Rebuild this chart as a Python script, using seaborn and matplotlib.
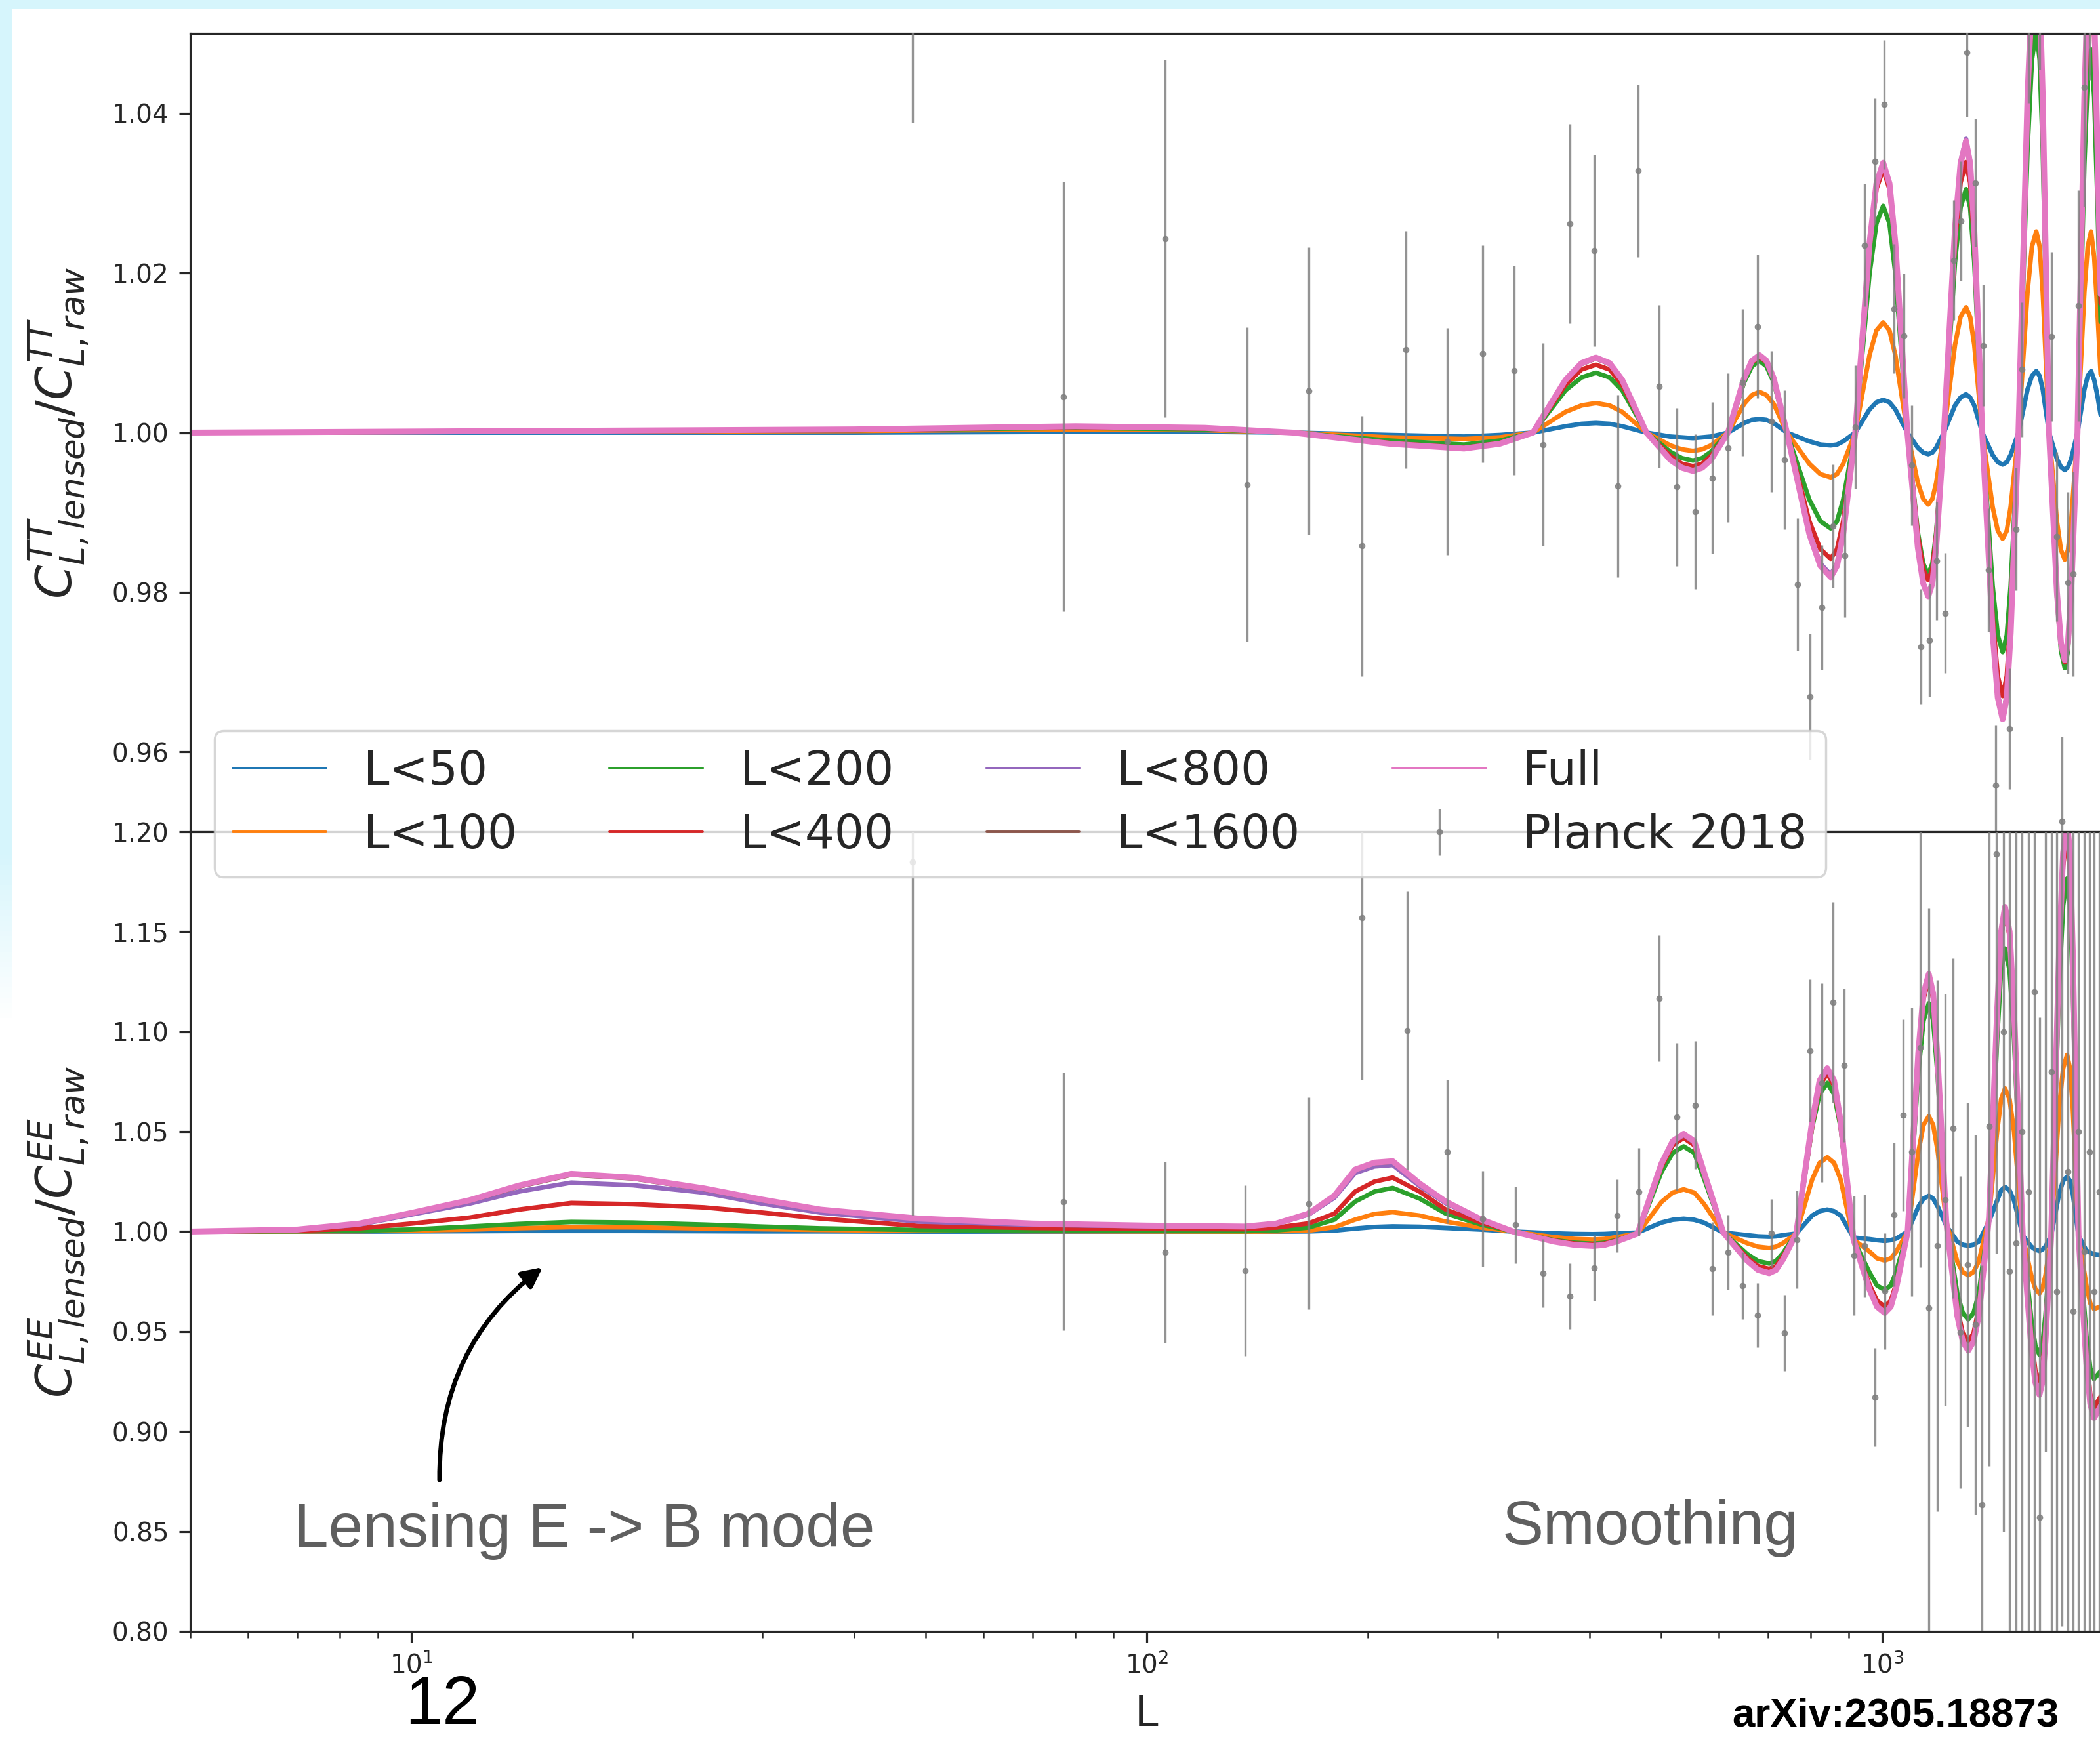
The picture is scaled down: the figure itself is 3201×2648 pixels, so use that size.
import numpy as np
import pandas as pd
import matplotlib
matplotlib.use("Agg")
import matplotlib.pyplot as plt
import matplotlib.colors as mcolors
import seaborn as sns
from matplotlib.lines import Line2D
from matplotlib.patches import Rectangle
from matplotlib.ticker import FormatStrFormatter, NullFormatter

sns.set_style("ticks")
plt.rcParams['font.family'] = 'DejaVu Sans'
plt.rcParams['lines.solid_joinstyle'] = 'round'

# ---------------- data ----------------
cuts = ["L<50", "L<100", "L<200", "L<400", "L<800", "L<1600", "Full"]

# TT ratio, upper panel
L_tt = [5, 40, 80, 120, 158,
        214, 270, 302, 335,
        371, 390, 408, 426, 443, 478,
        515, 534, 553, 569, 585, 617,
        649, 665, 681, 696, 712, 742,
        796, 824, 851, 868, 885, 919,
        961, 982, 1003, 1023, 1042, 1082,
        1118, 1137, 1155, 1170, 1184, 1213,
        1256, 1278, 1300, 1317, 1334, 1368,
        1413, 1436, 1458, 1477, 1495, 1532,
        1576, 1598, 1620, 1637, 1653, 1686,
        1728, 1750, 1771, 1789, 1807, 1843,
        1883, 1903, 1923, 1942, 1962, 2000]
tt_blue = [1.0000, 1.0000, 1.0001, 1.0001, 1.0000,
           0.9997, 0.9995, 0.9997, 1.0000,
           1.0008, 1.0011, 1.0012, 1.0011, 1.0008, 1.0000,
           0.9995, 0.9994, 0.9993, 0.9994, 0.9995, 1.0000,
           1.0012, 1.0016, 1.0017, 1.0016, 1.0012, 1.0000,
           0.9989, 0.9985, 0.9984, 0.9985, 0.9989, 1.0000,
           1.0029, 1.0038, 1.0041, 1.0038, 1.0029, 1.0000,
           0.9981, 0.9975, 0.9973, 0.9975, 0.9981, 1.0000,
           1.0034, 1.0044, 1.0048, 1.0044, 1.0034, 1.0000,
           0.9972, 0.9963, 0.9960, 0.9963, 0.9972, 1.0000,
           1.0054, 1.0071, 1.0077, 1.0071, 1.0054, 1.0000,
           0.9967, 0.9957, 0.9953, 0.9957, 0.9967, 1.0000,
           1.0054, 1.0071, 1.0077, 1.0066, 1.0046, 1.0000]
tt_orange = [1.0000, 1.0002, 1.0004, 1.0003, 1.0000,
             0.9994, 0.9992, 0.9994, 1.0000,
             1.0026, 1.0034, 1.0037, 1.0034, 1.0026, 1.0000,
             0.9984, 0.9979, 0.9977, 0.9979, 0.9984, 1.0000,
             1.0036, 1.0047, 1.0051, 1.0047, 1.0036, 1.0000,
             0.9961, 0.9948, 0.9944, 0.9948, 0.9961, 1.0000,
             1.0097, 1.0128, 1.0138, 1.0128, 1.0097, 1.0000,
             0.9937, 0.9917, 0.9910, 0.9917, 0.9937, 1.0000,
             1.0110, 1.0145, 1.0157, 1.0145, 1.0110, 1.0000,
             0.9907, 0.9877, 0.9867, 0.9877, 0.9907, 1.0000,
             1.0176, 1.0233, 1.0252, 1.0233, 1.0176, 1.0000,
             0.9889, 0.9853, 0.9841, 0.9853, 0.9889, 1.0000,
             1.0176, 1.0233, 1.0252, 1.0220, 1.0151, 1.0000]
tt_green = [1.0000, 1.0003, 1.0006, 1.0004, 1.0000,
            0.9990, 0.9985, 0.9990, 1.0000,
            1.0053, 1.0069, 1.0075, 1.0069, 1.0053, 1.0000,
            0.9976, 0.9968, 0.9965, 0.9968, 0.9976, 1.0000,
            1.0063, 1.0083, 1.0090, 1.0083, 1.0063, 1.0000,
            0.9916, 0.9889, 0.9880, 0.9889, 0.9916, 1.0000,
            1.0199, 1.0262, 1.0284, 1.0262, 1.0199, 1.0000,
            0.9875, 0.9836, 0.9822, 0.9836, 0.9875, 1.0000,
            1.0214, 1.0282, 1.0305, 1.0282, 1.0214, 1.0000,
            0.9808, 0.9746, 0.9725, 0.9746, 0.9808, 1.0000,
            1.0354, 1.0467, 1.0505, 1.0467, 1.0354, 1.0000,
            0.9794, 0.9727, 0.9705, 0.9727, 0.9794, 1.0000,
            1.0336, 1.0444, 1.0480, 1.0420, 1.0288, 1.0000]
tt_red = [1.0000, 1.0003, 1.0007, 1.0005, 1.0000,
          0.9987, 0.9981, 0.9987, 1.0000,
          1.0060, 1.0079, 1.0085, 1.0079, 1.0060, 1.0000,
          0.9971, 0.9961, 0.9958, 0.9961, 0.9971, 1.0000,
          1.0067, 1.0088, 1.0095, 1.0088, 1.0067, 1.0000,
          0.9889, 0.9854, 0.9842, 0.9854, 0.9889, 1.0000,
          1.0231, 1.0305, 1.0330, 1.0305, 1.0231, 1.0000,
          0.9871, 0.9829, 0.9815, 0.9829, 0.9871, 1.0000,
          1.0237, 1.0313, 1.0339, 1.0313, 1.0237, 1.0000,
          0.9769, 0.9695, 0.9670, 0.9695, 0.9769, 1.0000,
          1.0406, 1.0536, 1.0580, 1.0536, 1.0406, 1.0000,
          0.9798, 0.9734, 0.9712, 0.9734, 0.9798, 1.0000,
          1.0392, 1.0517, 1.0560, 1.0495, 1.0336, 1.0000]
tt_purple = [1.0000, 1.0004, 1.0008, 1.0006, 1.0000,
             0.9986, 0.9980, 0.9986, 1.0000,
             1.0065, 1.0086, 1.0093, 1.0086, 1.0065, 1.0000,
             0.9966, 0.9956, 0.9952, 0.9956, 0.9966, 1.0000,
             1.0068, 1.0090, 1.0097, 1.0090, 1.0068, 1.0000,
             0.9875, 0.9836, 0.9822, 0.9836, 0.9875, 1.0000,
             1.0237, 1.0312, 1.0338, 1.0312, 1.0237, 1.0000,
             0.9858, 0.9812, 0.9797, 0.9812, 0.9858, 1.0000,
             1.0258, 1.0340, 1.0368, 1.0340, 1.0258, 1.0000,
             0.9752, 0.9672, 0.9645, 0.9672, 0.9752, 1.0000,
             1.0420, 1.0554, 1.0600, 1.0554, 1.0420, 1.0000,
             0.9801, 0.9738, 0.9716, 0.9738, 0.9801, 1.0000,
             1.0420, 1.0554, 1.0600, 1.0530, 1.0360, 1.0000]
tt_brown = [1.0000, 1.0004, 1.0008, 1.0006, 1.0000,
            0.9986, 0.9980, 0.9986, 1.0000,
            1.0065, 1.0086, 1.0093, 1.0086, 1.0065, 1.0000,
            0.9967, 0.9957, 0.9953, 0.9957, 0.9967, 1.0000,
            1.0068, 1.0090, 1.0097, 1.0090, 1.0068, 1.0000,
            0.9874, 0.9834, 0.9820, 0.9834, 0.9874, 1.0000,
            1.0236, 1.0311, 1.0337, 1.0311, 1.0236, 1.0000,
            0.9857, 0.9812, 0.9796, 0.9812, 0.9857, 1.0000,
            1.0255, 1.0336, 1.0364, 1.0336, 1.0255, 1.0000,
            0.9750, 0.9670, 0.9643, 0.9670, 0.9750, 1.0000,
            1.0418, 1.0553, 1.0598, 1.0553, 1.0418, 1.0000,
            0.9801, 0.9738, 0.9716, 0.9738, 0.9801, 1.0000,
            1.0418, 1.0553, 1.0598, 1.0528, 1.0358, 1.0000]
tt_full = [1.0000, 1.0004, 1.0008, 1.0006, 1.0000,
           0.9986, 0.9980, 0.9986, 1.0000,
           1.0066, 1.0087, 1.0094, 1.0087, 1.0066, 1.0000,
           0.9966, 0.9956, 0.9952, 0.9956, 0.9966, 1.0000,
           1.0068, 1.0090, 1.0097, 1.0090, 1.0068, 1.0000,
           0.9873, 0.9833, 0.9819, 0.9833, 0.9873, 1.0000,
           1.0237, 1.0312, 1.0338, 1.0312, 1.0237, 1.0000,
           0.9856, 0.9811, 0.9795, 0.9811, 0.9856, 1.0000,
           1.0256, 1.0337, 1.0365, 1.0337, 1.0256, 1.0000,
           0.9749, 0.9668, 0.9641, 0.9668, 0.9749, 1.0000,
           1.0420, 1.0554, 1.0600, 1.0554, 1.0420, 1.0000,
           0.9800, 0.9737, 0.9715, 0.9737, 0.9800, 1.0000,
           1.0420, 1.0554, 1.0600, 1.0530, 1.0360, 1.0000]

# EE ratio, lower panel
L_ee = [5, 7, 8.5, 10, 12, 14, 16.5, 20, 25, 30, 36, 49, 70, 100, 136,
        150, 166, 180, 192, 204, 216, 235, 255, 285, 315,
        358, 382, 404, 419, 435, 465,
        501, 519, 537, 555, 572, 608,
        655, 678, 702, 717, 733, 764,
        803, 822, 842, 860, 878, 914,
        961, 984, 1008, 1027, 1045, 1083,
        1120, 1138, 1157, 1173, 1190, 1222,
        1265, 1287, 1309, 1331, 1353, 1397,
        1433, 1451, 1469, 1490, 1511, 1553,
        1595, 1615, 1636, 1651, 1667, 1697,
        1740, 1762, 1784, 1800, 1816, 1849,
        1895, 1918, 1941, 2000]
ee_blue = [1.0000, 1.0000, 1.0000, 1.0001, 1.0002, 1.0003, 1.0003, 1.0003, 1.0002, 1.0001,
           1.0001, 1.0000, 1.0000, 1.0000, 1.0000,
           1.0000, 1.0001, 1.0005, 1.0015, 1.0023, 1.0026, 1.0024, 1.0018, 1.0010, 1.0000,
           0.9991, 0.9988, 0.9987, 0.9988, 0.9991, 0.9995,
           1.0045, 1.0059, 1.0064, 1.0059, 1.0045, 0.9995,
           0.9982, 0.9976, 0.9974, 0.9976, 0.9982, 0.9990,
           1.0080, 1.0102, 1.0110, 1.0102, 1.0080, 0.9970,
           0.9962, 0.9957, 0.9953, 0.9957, 0.9965, 1.0000,
           1.0125, 1.0165, 1.0179, 1.0165, 1.0125, 1.0030,
           0.9950, 0.9934, 0.9929, 0.9934, 0.9950, 1.0050,
           1.0155, 1.0206, 1.0223, 1.0206, 1.0155, 0.9980,
           0.9925, 0.9910, 0.9903, 0.9910, 0.9925, 0.9980,
           1.0190, 1.0254, 1.0275, 1.0254, 1.0190, 0.9980,
           0.9905, 0.9895, 0.9886, 0.9880]
ee_orange = [1.0000, 1.0001, 1.0002, 1.0005, 1.0010, 1.0017, 1.0022, 1.0021, 1.0016, 1.0012,
             1.0008, 1.0004, 1.0002, 1.0001, 1.0000,
             1.0001, 1.0005, 1.0022, 1.0060, 1.0088, 1.0097, 1.0080, 1.0050, 1.0020, 1.0000,
             0.9972, 0.9963, 0.9960, 0.9963, 0.9972, 0.9990,
             1.0148, 1.0195, 1.0211, 1.0195, 1.0140, 0.9995,
             0.9942, 0.9924, 0.9918, 0.9924, 0.9942, 0.9990,
             1.0260, 1.0344, 1.0372, 1.0344, 1.0260, 0.9960,
             0.9900, 0.9866, 0.9855, 0.9866, 0.9900, 1.0000,
             1.0400, 1.0533, 1.0577, 1.0533, 1.0400, 1.0050,
             0.9850, 0.9798, 0.9781, 0.9798, 0.9850, 1.0070,
             1.0500, 1.0662, 1.0716, 1.0662, 1.0500, 0.9975,
             0.9780, 0.9714, 0.9691, 0.9714, 0.9780, 0.9975,
             1.0620, 1.0817, 1.0884, 1.0817, 1.0620, 0.9980,
             0.9730, 0.9642, 0.9613, 0.9630]
ee_green = [1.0000, 1.0002, 1.0005, 1.0010, 1.0025, 1.0038, 1.0048, 1.0045, 1.0035, 1.0025,
            1.0016, 1.0008, 1.0004, 1.0003, 1.0002,
            1.0006, 1.0020, 1.0060, 1.0150, 1.0200, 1.0218, 1.0165, 1.0090, 1.0035, 1.0000,
            0.9957, 0.9944, 0.9939, 0.9944, 0.9957, 0.9990,
            1.0298, 1.0394, 1.0426, 1.0394, 1.0268, 0.9995,
            0.9888, 0.9852, 0.9840, 0.9852, 0.9893, 0.9990,
            1.0520, 1.0687, 1.0744, 1.0687, 1.0520, 0.9960,
            0.9795, 0.9730, 0.9708, 0.9730, 0.9800, 1.0000,
            1.0800, 1.1055, 1.1142, 1.1055, 1.0770, 1.0050,
            0.9690, 0.9593, 0.9560, 0.9593, 0.9690, 1.0070,
            1.0960, 1.1308, 1.1416, 1.1308, 1.0960, 0.9975,
            0.9560, 0.9431, 0.9384, 0.9431, 0.9580, 0.9975,
            1.1230, 1.1632, 1.1766, 1.1632, 1.1230, 0.9980,
            0.9480, 0.9318, 0.9262, 0.9320]
ee_red = [1.0000, 1.0004, 1.0016, 1.0040, 1.0070, 1.0110, 1.0143, 1.0137, 1.0121, 1.0095,
          1.0065, 1.0028, 1.0018, 1.0013, 1.0012,
          1.0020, 1.0041, 1.0090, 1.0200, 1.0250, 1.0270, 1.0200, 1.0110, 1.0045, 1.0000,
          0.9955, 0.9940, 0.9935, 0.9940, 0.9955, 0.9990,
          1.0325, 1.0432, 1.0468, 1.0432, 1.0290, 0.9995,
          0.9869, 0.9827, 0.9813, 0.9827, 0.9875, 0.9990,
          1.0525, 1.0730, 1.0790, 1.0730, 1.0525, 0.9960,
          0.9735, 0.9654, 0.9625, 0.9654, 0.9740, 1.0000,
          1.0880, 1.1164, 1.1260, 1.1164, 1.0830, 1.0050,
          0.9615, 0.9492, 0.9450, 0.9492, 0.9615, 1.0070,
          1.1080, 1.1478, 1.1600, 1.1478, 1.1080, 0.9975,
          0.9465, 0.9307, 0.9250, 0.9307, 0.9500, 0.9975,
          1.1380, 1.1830, 1.1980, 1.1830, 1.1380, 0.9980,
          0.9380, 0.9187, 0.9120, 0.9200]
ee_purple = [1.0000, 1.0009, 1.0035, 1.0085, 1.0140, 1.0200, 1.0245, 1.0232, 1.0195, 1.0140,
             1.0095, 1.0050, 1.0034, 1.0027, 1.0024,
             1.0038, 1.0085, 1.0170, 1.0293, 1.0326, 1.0333, 1.0228, 1.0142, 1.0057, 1.0000,
             0.9951, 0.9935, 0.9930, 0.9935, 0.9951, 0.9990,
             1.0336, 1.0446, 1.0483, 1.0446, 1.0297, 0.9995,
             0.9857, 0.9811, 0.9795, 0.9811, 0.9862, 0.9990,
             1.0545, 1.0748, 1.0810, 1.0748, 1.0545, 0.9960,
             0.9713, 0.9628, 0.9597, 0.9628, 0.9723, 1.0000,
             1.0895, 1.1183, 1.1280, 1.1183, 1.0846, 1.0050,
             0.9584, 0.9455, 0.9410, 0.9455, 0.9584, 1.0070,
             1.1096, 1.1497, 1.1620, 1.1497, 1.1096, 0.9975,
             0.9424, 0.9252, 0.9190, 0.9252, 0.9455, 0.9975,
             1.1395, 1.1885, 1.2040, 1.1885, 1.1395, 0.9980,
             0.9345, 0.9145, 0.9075, 0.9155]
ee_brown = [1.0000, 1.0010, 1.0039, 1.0091, 1.0154, 1.0225, 1.0284, 1.0266, 1.0212, 1.0157,
            1.0108, 1.0064, 1.0039, 1.0029, 1.0025,
            1.0040, 1.0089, 1.0178, 1.0307, 1.0342, 1.0349, 1.0238, 1.0149, 1.0060, 1.0000,
            0.9950, 0.9933, 0.9928, 0.9933, 0.9950, 0.9990,
            1.0340, 1.0450, 1.0487, 1.0450, 1.0299, 0.9995,
            0.9855, 0.9809, 0.9793, 0.9809, 0.9860, 0.9990,
            1.0549, 1.0753, 1.0815, 1.0753, 1.0549, 0.9960,
            0.9711, 0.9626, 0.9595, 0.9626, 0.9721, 1.0000,
            1.0898, 1.1187, 1.1285, 1.1187, 1.0848, 1.0050,
            0.9582, 0.9453, 0.9408, 0.9453, 0.9582, 1.0070,
            1.1098, 1.1499, 1.1622, 1.1499, 1.1098, 0.9975,
            0.9422, 0.9249, 0.9187, 0.9249, 0.9452, 0.9975,
            1.1398, 1.1890, 1.2045, 1.1890, 1.1398, 0.9980,
            0.9342, 0.9142, 0.9071, 0.9152]
ee_full = [1.0000, 1.0010, 1.0040, 1.0093, 1.0157, 1.0230, 1.0289, 1.0270, 1.0216, 1.0160,
           1.0110, 1.0065, 1.0040, 1.0030, 1.0025,
           1.0040, 1.0090, 1.0180, 1.0310, 1.0345, 1.0352, 1.0240, 1.0150, 1.0060, 1.0000,
           0.9950, 0.9933, 0.9928, 0.9933, 0.9950, 0.9990,
           1.0340, 1.0452, 1.0489, 1.0452, 1.0300, 0.9995,
           0.9855, 0.9808, 0.9792, 0.9808, 0.9860, 0.9990,
           1.0550, 1.0755, 1.0817, 1.0755, 1.0550, 0.9960,
           0.9710, 0.9624, 0.9593, 0.9624, 0.9720, 1.0000,
           1.0900, 1.1190, 1.1288, 1.1190, 1.0850, 1.0050,
           0.9580, 0.9450, 0.9405, 0.9450, 0.9580, 1.0070,
           1.1100, 1.1500, 1.1624, 1.1500, 1.1100, 0.9975,
           0.9420, 0.9246, 0.9184, 0.9246, 0.9450, 0.9975,
           1.1400, 1.1894, 1.2050, 1.1894, 1.1400, 0.9980,
           0.9340, 0.9139, 0.9068, 0.9150]

# Planck 2018 binned ratios
planck_tt_L = [48, 77, 106, 137, 166, 196, 225, 256, 286, 316, 346, 376, 406, 437, 466, 497,
               526, 557, 587, 617, 646, 677, 707, 737, 767, 797, 827, 857, 889, 919, 946, 977,
               1007, 1037, 1069, 1097, 1129, 1159, 1187, 1218, 1250, 1279, 1304, 1339, 1371,
               1395, 1426, 1489, 1520, 1548, 1580, 1637, 1698, 1727, 1757, 1787, 1818, 1849,
               1881, 1912]
planck_tt = [1.0700, 1.0045, 1.0243, 0.9935, 1.0052, 0.9858, 1.0104, 0.9989, 1.0099, 1.0078,
             0.9985, 1.0262, 1.0228, 0.9933, 1.0328, 1.0058, 0.9932, 0.9901, 0.9943, 0.9981,
             1.0063, 1.0133, 1.0014, 0.9966, 0.9810, 0.9669, 0.9781, 0.9883, 0.9846, 1.0007,
             1.0235, 1.0340, 1.0411, 1.0155, 1.0121, 0.9959, 0.9732, 0.9740, 0.9839, 0.9774,
             1.0216, 1.0265, 1.0476, 1.0313, 1.0109, 0.9828, 0.9558, 0.9629, 0.9879, 1.0079,
             1.0505, 1.0555, 1.0120, 0.9870, 0.9513, 0.9812, 0.9823, 1.0159, 1.0433, 1.0602]
planck_tt_err = [0.0312, 0.0269, 0.0224, 0.0197, 0.0180, 0.0163, 0.0149, 0.0142, 0.0136, 0.0131,
                 0.0127, 0.0125, 0.0120, 0.0114, 0.0108, 0.0102, 0.0099, 0.0097, 0.0095, 0.0093,
                 0.0092, 0.0090, 0.0088, 0.0087, 0.0083, 0.0079, 0.0078, 0.0077, 0.0077, 0.0077,
                 0.0077, 0.0079, 0.0081, 0.0081, 0.0078, 0.0075, 0.0072, 0.0071, 0.0074, 0.0075,
                 0.0075, 0.0075, 0.0080, 0.0080, 0.0076, 0.0077, 0.0075, 0.0076, 0.0077, 0.0084,
                 0.0092, 0.0100, 0.0106, 0.0106, 0.0106, 0.0114, 0.0128, 0.0145, 0.0150, 0.0160]

planck_ee_L = [48, 77, 106, 136, 166, 196, 226, 256, 286, 317, 346, 376, 406, 436, 467, 497,
               526, 557, 587, 617, 646, 677, 707, 737, 766, 797, 828, 857, 887, 916, 946, 978,
               1008, 1037, 1068, 1097, 1127, 1157, 1189, 1218, 1248, 1278, 1307, 1338, 1366,
               1397, 1429, 1461, 1490, 1520, 1550, 1580, 1610, 1638, 1667, 1697, 1727, 1757,
               1787, 1818, 1849, 1881, 1912, 1943, 1975]
planck_ee = [1.185, 1.015, 0.9897, 0.9805, 1.0141, 1.157, 1.1006, 1.0399, 1.0064, 1.0033,
             0.9792, 0.9677, 0.9817, 1.0079, 1.0200, 1.1167, 1.0573, 1.0633, 0.9813, 0.9897,
             0.9729, 0.9583, 0.9991, 0.9493, 0.9960, 1.0905, 1.0744, 1.1146, 1.0832, 0.9880,
             0.9928, 0.9170, 0.9702, 1.0085, 1.0583, 1.0399, 1.0922, 0.9618, 0.9929, 1.0160,
             1.0516, 0.9496, 0.9834, 0.9535, 0.8632, 1.0526, 1.1890, 1.1000, 0.9800, 0.9943,
             1.0500, 1.0200, 1.1200, 0.8570, 1.2300, 1.0800, 0.9700, 1.2025, 1.0300, 0.9600,
             1.0500, 0.9900, 1.0400, 0.9700, 1.0200]
planck_ee_err = [0.177, 0.0645, 0.0452, 0.0426, 0.053, 0.081, 0.0695, 0.0359, 0.024, 0.0193,
                 0.017, 0.0164, 0.0164, 0.0183, 0.022, 0.0314, 0.0369, 0.0319, 0.0233, 0.0188,
                 0.0167, 0.0161, 0.017, 0.019, 0.0244, 0.0356, 0.0497, 0.0502, 0.0384, 0.030,
                 0.0256, 0.0246, 0.029, 0.0359, 0.0478, 0.0722, 0.11, 0.20, 0.133, 0.103,
                 0.085, 0.078, 0.081, 0.095, 0.12, 0.17, 0.20, 0.25, 0.28, 0.30,
                 0.30, 0.32, 0.33, 0.25, 0.34, 0.36, 0.38, 0.40, 0.42, 0.44,
                 0.46, 0.48, 0.50, 0.52, 0.55]

tt_ticks = [0.96, 0.98, 1.00, 1.02, 1.04]
ee_ticks = [0.80, 0.85, 0.90, 0.95, 1.00, 1.05, 1.10, 1.15, 1.20]

# ---------------- figure ----------------
W, H = 3201, 2648
fig = plt.figure(figsize=(W / 100, H / 100), dpi=100, facecolor='white')

# slide border (light blue) around the screenshot
bg = '#d6f5fc'
fig.add_artist(Rectangle((0, 1 - 13 / H), 1, 13 / H, transform=fig.transFigure,
                         facecolor=bg, edgecolor='none', zorder=-5))
strip = fig.add_axes([0, 1 - 1560 / H, 18 / W, 1560 / H], zorder=-5)
grad = np.ones((200, 1, 4))
grad[..., :3] = mcolors.to_rgb(bg)
grad[:, 0, 3] = np.clip((1560 - np.linspace(0, 1560, 200)) / 260, 0, 1)
strip.imshow(grad, aspect='auto')
strip.axis('off')

left, width = 289.5 / W, 2917 / W
ax1 = fig.add_axes([left, 1 - 1268 / H, width, (1268 - 51) / H])
ax2 = fig.add_axes([left, 1 - 2487 / H, width, (2487 - 1268) / H])

palette = dict(zip(cuts, sns.color_palette("tab10", 7)))
widths = {c: 5.0 for c in cuts}
widths["Full"] = 6.5


def draw_curves(ax, L, curves):
    df = pd.DataFrame({"L": L, **dict(zip(cuts, curves))})
    df = df.melt(id_vars="L", var_name="cut", value_name="ratio")
    sns.lineplot(data=df, x="L", y="ratio", hue="cut", hue_order=cuts, palette=palette,
                 size="cut", size_order=cuts, sizes=widths, estimator=None, sort=False,
                 legend=False, ax=ax)


draw_curves(ax1, L_tt, [tt_blue, tt_orange, tt_green, tt_red, tt_purple, tt_brown, tt_full])
draw_curves(ax2, L_ee, [ee_blue, ee_orange, ee_green, ee_red, ee_purple, ee_brown, ee_full])

eb_kw = dict(fmt='o', ms=6, color='gray', ecolor='gray', elinewidth=2.4, capsize=0,
             alpha=0.85, zorder=5)
eb = ax1.errorbar(planck_tt_L, planck_tt, yerr=planck_tt_err, **eb_kw)
ax2.errorbar(planck_ee_L, planck_ee, yerr=planck_ee_err, **eb_kw)

for ax in (ax1, ax2):
    ax.set_xscale('log')
    ax.set_xlim(5, 2000)
    ax.set_xlabel('')
    ax.yaxis.set_major_formatter(FormatStrFormatter('%.2f'))
    ax.tick_params(axis='both', which='major', labelsize=28, length=12, width=2.3, pad=11)
    ax.tick_params(axis='x', which='minor', length=7, width=1.8)
    for sp in ax.spines.values():
        sp.set_linewidth(2.3)
ax1.set_ylim(0.95, 1.05)
ax2.set_ylim(0.80, 1.20)
ax1.set_yticks(tt_ticks)
ax2.set_yticks(ee_ticks)
ax1.xaxis.set_major_formatter(NullFormatter())
ax1.xaxis.set_minor_formatter(NullFormatter())
ax1.tick_params(axis='x', which='both', bottom=False, labelbottom=False)

ax1.set_ylabel(r'$C^{TT}_{L,lensed}/C^{TT}_{L,raw}$', fontsize=53)
ax2.set_ylabel(r'$C^{EE}_{L,lensed}/C^{EE}_{L,raw}$', fontsize=53)
ax1.yaxis.set_label_coords(-0.052, 0.5)
ax2.yaxis.set_label_coords(-0.052, 0.5)
ax2.set_xlabel('L', fontsize=46, labelpad=17)

# legend spanning the two panels
handles = [Line2D([], [], color=palette[c], lw=2.8) for c in cuts] + [eb]
labels = cuts + ["Planck 2018"]
leg = fig.legend(handles, labels, ncol=4, loc='center left',
                 bbox_to_anchor=(327 / W, 1 - 1225 / H), borderaxespad=0,
                 fontsize=51, labelspacing=0.4,
                 framealpha=0.8, edgecolor='0.8', fancybox=True)
leg.get_frame().set_linewidth(2.5)

# slide annotations
fig.text(891 / W, 1 - 2334 / H, 'Lensing E -> B mode', ha='center', va='center',
         fontsize=68, color='#5f5f5f', family='Liberation Sans')
fig.text(2516 / W, 1 - 2330 / H, 'Smoothing', ha='center', va='center',
         fontsize=68, color='#5f5f5f', family='Liberation Sans')
fig.text(674 / W, 1 - 2601 / H, '12', ha='center', va='center',
         fontsize=74, color='black', family='Liberation Sans')
fig.text(2640 / W, 16 / H, 'arXiv:2305.18873', ha='left', va='baseline',
         fontsize=44.5, fontweight='bold', color='black', family='Liberation Sans')

ax2.annotate('', xy=(827, 2648 - 1932), xycoords='figure pixels',
             xytext=(670, 2648 - 2256), textcoords='figure pixels',
             arrowprops=dict(arrowstyle='-|>,head_length=1.8,head_width=0.9', lw=5,
                             color='black', connectionstyle='arc3,rad=-0.25',
                             shrinkA=0, shrinkB=0))

fig.savefig('out.png', dpi=100, facecolor=fig.get_facecolor())
